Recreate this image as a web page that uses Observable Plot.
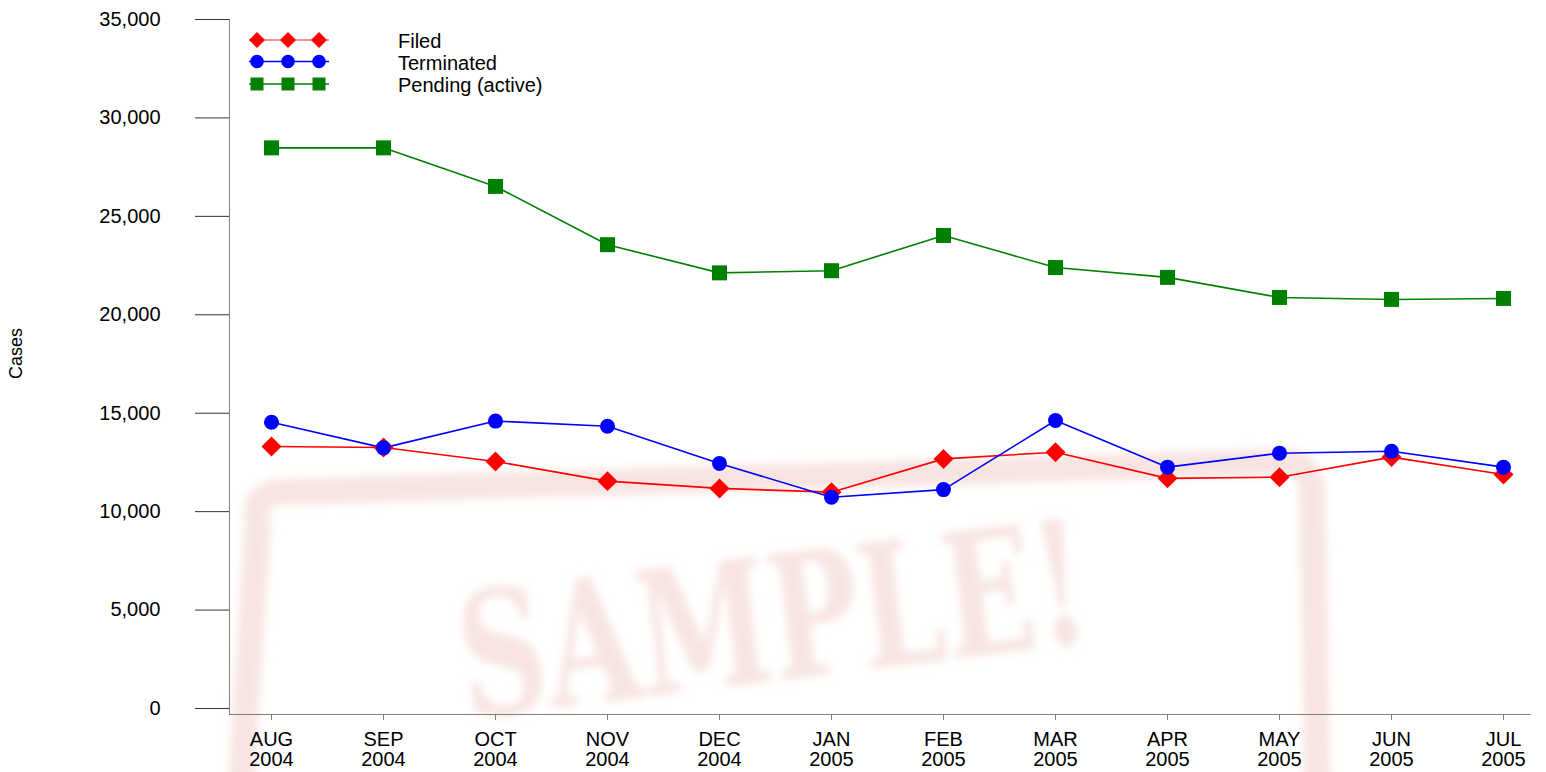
<!DOCTYPE html>
<html><head><meta charset="utf-8">
<script src="https://cdn.jsdelivr.net/npm/d3@7"></script>
<script src="https://cdn.jsdelivr.net/npm/@observablehq/plot@0.6"></script>
<style>
html,body{margin:0;padding:0;background:#fff;}
#wrap{position:relative;width:1546px;height:772px;overflow:hidden;font-family:Arial,"Liberation Sans",sans-serif;}
#wm,#chart,#legend{position:absolute;left:0;top:0;}
</style></head><body>
<div id="wrap"><svg id="wm" width="1546" height="772"></svg><div id="chart"></div><svg id="legend" width="600" height="110"></svg></div>
<script>
const months = ["AUG","SEP","OCT","NOV","DEC","JAN","FEB","MAR","APR","MAY","JUN","JUL"];
const years = ["2004","2004","2004","2004","2004","2005","2005","2005","2005","2005","2005","2005"];
const filed = [13310,13260,12550,11550,11180,10990,12680,13020,11690,11750,12770,11890];
const terminated = [14540,13240,14600,14340,12450,10730,11120,14630,12260,12970,13070,12260];
const pending = [28480,28480,26520,23560,22130,22240,24030,22400,21900,20880,20780,20830];
const seriesNames = ["Filed","Terminated","Pending (active)"];
const seriesColors = ["#ff0000","#0000ff","#008000"];
const seriesSymbols = ["diamond2","circle","square"];
const seriesR = [9, 7.5, 8.46];
const yTicks = [0,5000,10000,15000,20000,25000,30000,35000];
const yLabel = "Cases";

const labels = months.map((m,i)=>m+"\n"+years[i]);
const seriesValues = [filed, terminated, pending];
const rows = [];
seriesValues.forEach((vals,s)=>vals.forEach((v,i)=>rows.push({label:labels[i], value:v, series:seriesNames[s]})));

const marks = [
  Plot.frame({anchor:"left", stroke:"#808080"}),
  Plot.frame({anchor:"bottom", stroke:"#808080"}),
  Plot.axisY({ticks:yTicks, tickSize:34, tickPadding:35, tickFormat:d3.format(","), fontSize:20, stroke:"#333", fill:"#000", label:null}),
  Plot.axisX({tickSize:6, tickPadding:11, fontSize:20, lineHeight:1, stroke:"#808080", fill:"#000", label:null}),
  Plot.text([yLabel], {frameAnchor:"left", text:d=>d, rotate:-90, dx:-213, dy:12, fontSize:18, fill:"#000"})
];
seriesNames.forEach((name,s)=>{
  const d = rows.filter(r=>r.series===name);
  marks.push(Plot.line(d, {x:"label", y:"value", stroke:seriesColors[s], strokeWidth:1.6}));
});
seriesNames.forEach((name,s)=>{
  const d = rows.filter(r=>r.series===name);
  marks.push(Plot.dot(d, {x:"label", y:"value", fill:seriesColors[s], symbol:seriesSymbols[s], r:seriesR[s], stroke:"none"}));
});

const chart = Plot.plot({
  width:1546, height:772, marginLeft:229, marginRight:16, marginTop:19, marginBottom:58,
  style:{background:"transparent", fontFamily:"Arial, 'Liberation Sans', sans-serif", fontSize:"20px", color:"#000"},
  x:{type:"point", domain:labels, range:[268,1506], padding:0},
  y:{domain:[0,35000], range:[708,19]},
  marks
});
document.getElementById("chart").appendChild(chart);

// Legend
const lg = d3.select("#legend");
seriesNames.forEach((name,s)=>{
  const y = [40,61.5,84][s];
  lg.append("line").attr("x1",249).attr("x2",329).attr("y1",y).attr("y2",y)
    .attr("stroke",seriesColors[s]).attr("stroke-width",1.5).attr("stroke-opacity", s===0?0.6:1);
  [257,288,319].forEach(x=>{
    let path;
    if (s===0) path = `M${x},${y-8}L${x+8},${y}L${x},${y+8}L${x-8},${y}Z`;
    else if (s===1) path = d3.symbol(d3.symbolCircle, Math.PI*6.8*6.8)();
    else path = d3.symbol(d3.symbolSquare, 13*13)();
    const p = lg.append("path").attr("d",path).attr("fill",seriesColors[s]);
    if (s>0) p.attr("transform",`translate(${x},${y})`);
  });
  lg.append("text").attr("x",398).attr("y",y+8).attr("font-size",20)
    .attr("font-family","Arial, 'Liberation Sans', sans-serif").attr("fill","#000").text(name);
});

// Watermark
const wm = d3.select("#wm");
const defs = wm.append("defs");
defs.append("filter").attr("id","blur").append("feGaussianBlur").attr("stdDeviation",4);
const g = wm.append("g").attr("filter","url(#blur)");
const wmColor = "#f7e4e1";
g.append("path").attr("d","M258,520 Q252,495 280,492 L1280,462 Q1310,460 1312,490 L1318,800")
  .attr("fill","none").attr("stroke",wmColor).attr("stroke-width",26);
g.append("path").attr("d","M258,520 L240,800").attr("fill","none").attr("stroke",wmColor).attr("stroke-width",26);
g.append("text").attr("transform","translate(780,680) rotate(-7) scale(0.8,1.15)")
  .attr("text-anchor","middle").attr("font-family","'DejaVu Serif', serif").attr("font-weight","bold")
  .attr("font-size",150).attr("fill",wmColor).text("SAMPLE!");
</script>
</body></html>
